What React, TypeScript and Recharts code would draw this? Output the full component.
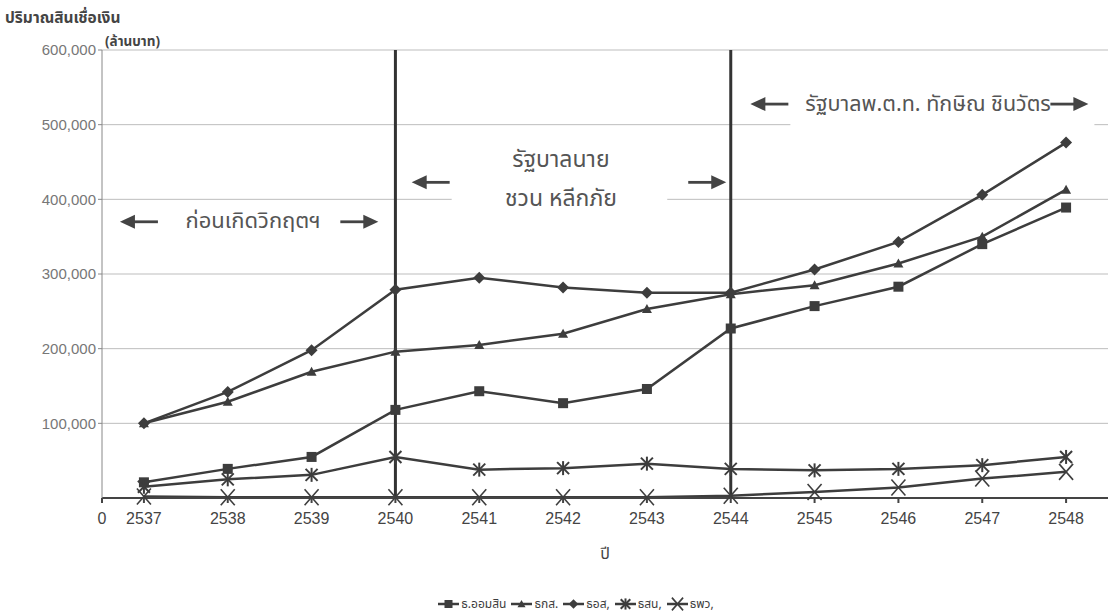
import { LineChart, Line, XAxis, YAxis, CartesianGrid, Legend, ReferenceLine, ReferenceArea } from 'recharts';

const years = [2537, 2538, 2539, 2540, 2541, 2542, 2543, 2544, 2545, 2546, 2547, 2548];
const gsb = [21000, 39000, 55000, 118000, 143000, 127000, 146000, 227000, 257000, 283000, 340000, 389000];
const baac = [100000, 129000, 169000, 196000, 205000, 220000, 253000, 273000, 285000, 314000, 350000, 413000];
const ghb = [100000, 142000, 198000, 279000, 295000, 282000, 275000, 275000, 306000, 343000, 406000, 476000];
const exim = [15000, 25000, 31000, 55000, 38000, 40000, 46000, 39000, 37000, 39000, 44000, 55000];
const sme = [2000, 1000, 1000, 1000, 1000, 1000, 1000, 3000, 8000, 14000, 26000, 35000];

const seriesNames = ['ธ.ออมสิน', 'ธกส.', 'ธอส,', 'ธสน,', 'ธพว,'];
const yTicks = [100000, 200000, 300000, 400000, 500000, 600000];
const xTicks = [2536.5, ...years];

const ink = '#3d3d3d';
const thai = '"Noto Sans Thai", "Noto Sans", "DejaVu Sans", sans-serif';
const narrow = '"Liberation Sans Narrow", "Liberation Sans", Arial, sans-serif';

const data = years.map((y, i) => ({ year: y, gsb: gsb[i], baac: baac[i], ghb: ghb[i], exim: exim[i], sme: sme[i] }));

type Kind = 'square' | 'triangle' | 'diamond' | 'star' | 'cross';

function Marker({ kind, x, y, s = 1 }: { kind: Kind; x: number; y: number; s?: number }) {
  if (kind === 'square') return <rect x={x - 5 * s} y={y - 5 * s} width={10 * s} height={10 * s} fill={ink} />;
  if (kind === 'triangle')
    return <polygon points={`${x},${y - 5 * s} ${x - 5 * s},${y + 4 * s} ${x + 5 * s},${y + 4 * s}`} fill={ink} />;
  if (kind === 'diamond')
    return <polygon points={`${x},${y - 6 * s} ${x + 6 * s},${y} ${x},${y + 6 * s} ${x - 6 * s},${y}`} fill={ink} />;
  if (kind === 'star')
    return (
      <g stroke={ink} strokeWidth={2}>
        <line x1={x} y1={y - 7 * s} x2={x} y2={y + 7 * s} />
        <line x1={x - 6 * s} y1={y - 6 * s} x2={x + 6 * s} y2={y + 6 * s} />
        <line x1={x - 6 * s} y1={y + 6 * s} x2={x + 6 * s} y2={y - 6 * s} />
      </g>
    );
  return (
    <g stroke={ink} strokeWidth={1.6}>
      <line x1={x - 7 * s} y1={y - 8 * s} x2={x + 7 * s} y2={y + 8 * s} />
      <line x1={x - 7 * s} y1={y + 8 * s} x2={x + 7 * s} y2={y - 8 * s} />
    </g>
  );
}

const series: { key: string; name: string; kind: Kind }[] = [
  { key: 'gsb', name: seriesNames[0], kind: 'square' },
  { key: 'baac', name: seriesNames[1], kind: 'triangle' },
  { key: 'ghb', name: seriesNames[2], kind: 'diamond' },
  { key: 'exim', name: seriesNames[3], kind: 'star' },
  { key: 'sme', name: seriesNames[4], kind: 'cross' },
];

function Arrow({ x1, x2, y }: { x1: number; x2: number; y: number }) {
  // arrow head at x2
  const dir = x2 > x1 ? 1 : -1;
  return (
    <g>
      <line x1={x1} y1={y} x2={x2 - dir * 10} y2={y} stroke="#444" strokeWidth={2.8} />
      <polygon points={`${x2},${y} ${x2 - dir * 15},${y - 7} ${x2 - dir * 15},${y + 7}`} fill="#444" />
    </g>
  );
}

function PeriodNote({ viewBox, lines, textX, textY, arrowY, gapL, gapR, blank, size = 21, dx = 0 }: any) {
  const { x, y, width } = viewBox;
  return (
    <g>
      {blank && <rect x={x + gapL} y={y} width={width - gapL - gapR} height={viewBox.height} fill="#fff" />}
      <Arrow x1={x + 40} x2={x + 2} y={y + arrowY} />
      <Arrow x1={x + width - 40} x2={x + width - 2} y={y + arrowY} />
      {lines.map((t: string, i: number) => (
        <text
          key={i}
          x={textX === 'mid' ? x + width / 2 + dx : x + textX}
          y={y + textY + i * 39}
          textAnchor={textX === 'mid' ? 'middle' : 'start'}
          dominantBaseline="central"
          fontSize={size}
          fontFamily={thai}
          fill="#555"
        >
          {t}
        </text>
      ))}
    </g>
  );
}

function renderLegend() {
  return (
    <div style={{ display: 'flex', justifyContent: 'center', gap: 5, fontFamily: thai, fontSize: 12, color: ink, lineHeight: '16px', marginLeft: 44, marginTop: 2 }}>
      {series.map((s) => (
        <span key={s.key} style={{ display: 'flex', alignItems: 'center', gap: 2 }}>
          <svg width={21} height={14}>
            <line x1={0} y1={7} x2={21} y2={7} stroke={ink} strokeWidth={2.5} />
            <Marker kind={s.kind} x={10.5} y={7} s={0.8} />
          </svg>
          {s.name}
        </span>
      ))}
    </div>
  );
}

export default function App() {
  return (
    <div style={{ position: 'absolute', left: 0, top: 0, width: 1110, height: 614, background: '#fff' }}>
      <div style={{ position: 'absolute', left: 5, top: 7, fontFamily: thai, fontWeight: 700, fontSize: 15.5, color: '#444' }}>
        ปริมาณสินเชื่อเงิน
      </div>
      <div style={{ position: 'absolute', left: 105, top: 32, fontFamily: thai, fontWeight: 700, fontSize: 13.5, color: '#444' }}>
        (ล้านบาท)
      </div>
      <LineChart width={1110} height={614} data={data} margin={{ top: 50, right: 2, left: 0, bottom: 2 }}>
        <CartesianGrid vertical={false} stroke="#bdbdbd" />
        <XAxis
          dataKey="year"
          type="number"
          domain={[2536.5, 2548.5]}
          ticks={xTicks}
          tickFormatter={(v: number) => (v === 2536.5 ? '0' : String(v))}
          stroke="#444"
          strokeWidth={2}
          tickSize={5}
          tickMargin={10}
          tick={{ fill: '#444', fontSize: 16, fontFamily: narrow }}
          height={96}
          interval={0}
          label={{ value: 'ปี', position: 'insideTop', offset: 50, fill: '#444', fontSize: 16, fontFamily: thai }}
        />
        <YAxis
          domain={[0, 600000]}
          ticks={yTicks}
          width={102}
          stroke="#888"
          tickSize={4}
          tickFormatter={(v: number) => v.toLocaleString('en-US')}
          tick={{ fill: '#777', fontSize: 15, fontFamily: '"Liberation Sans", Arial, sans-serif' }}
        />
        <ReferenceArea
          x1={2536.69}
          x2={2539.82}
          y1={352000}
          y2={386000}
          fill="none"
          stroke="none"
          ifOverflow="visible"
          label={<PeriodNote lines={['ก่อนเกิดวิกฤตฯ']} textX="mid" textY={12} arrowY={12} size={22} dx={4} />}
        />
        <ReferenceArea
          x1={2540.17}
          x2={2543.97}
          y1={379000}
          y2={479000}
          fill="none"
          stroke="none"
          ifOverflow="visible"
          label={<PeriodNote lines={['รัฐบาลนาย', 'ชวน หลีกภัย']} textX="mid" textY={20} arrowY={42} gapL={42} gapR={61} blank size={23} dx={-8} />}
        />
        <ReferenceArea
          x1={2544.21}
          x2={2548.29}
          y1={493000}
          y2={553000}
          fill="none"
          stroke="none"
          ifOverflow="visible"
          label={<PeriodNote lines={['รัฐบาลพ.ต.ท. ทักษิณ ชินวัตร']} textX={57} textY={19} arrowY={19} gapL={42} gapR={-4} blank size={21.5} />}
        />
        <ReferenceLine x={2540} stroke="#333" strokeWidth={3} />
        <ReferenceLine x={2544} stroke="#333" strokeWidth={3} />
        {series.map((s) => (
          <Line
            key={s.key}
            dataKey={s.key}
            name={s.name}
            stroke={ink}
            strokeWidth={2.5}
            isAnimationActive={false}
            dot={(p: any) => <Marker key={`${s.key}-${p.index}`} kind={s.kind} x={p.cx} y={p.cy} />}
            activeDot={false}
          />
        ))}
        <Legend verticalAlign="bottom" height={18} content={renderLegend} />
      </LineChart>
    </div>
  );
}
